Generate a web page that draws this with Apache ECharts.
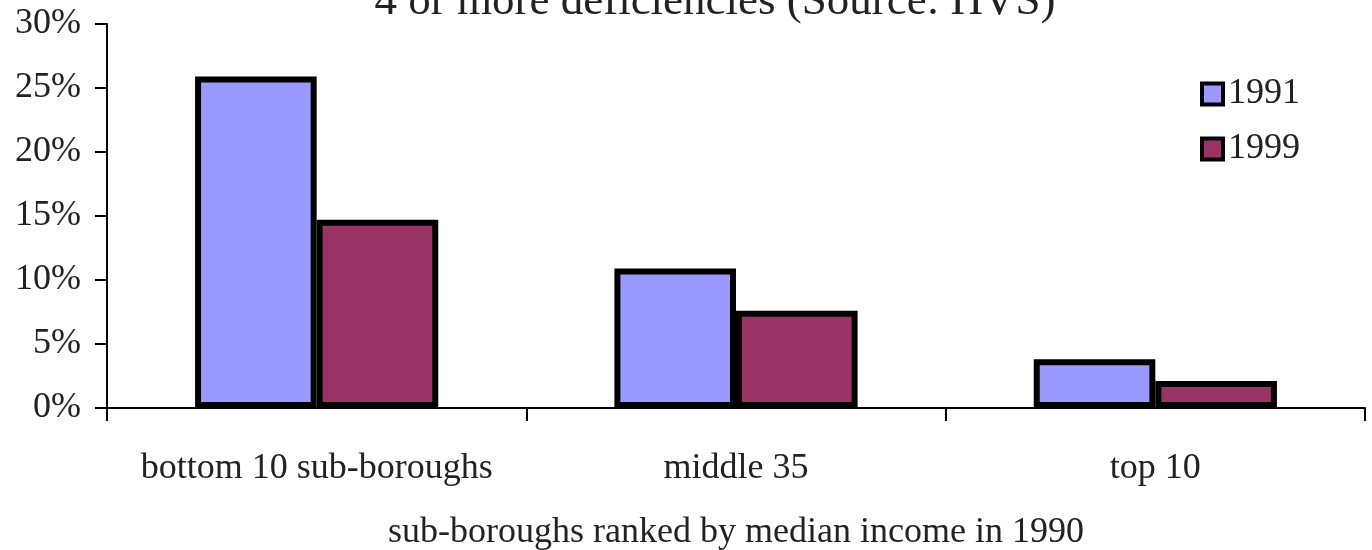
<!DOCTYPE html>
<html><head><meta charset="utf-8">
<script src="https://cdn.jsdelivr.net/npm/echarts@6/dist/echarts.min.js"></script>
<style>html,body{margin:0;padding:0;background:#fff}#c{width:1372px;height:550px}</style>
</head><body><div id="c"></div>
<script>
const categories = ['bottom 10 sub-boroughs', 'middle 35', 'top 10'];
const series1991 = [25.9, 10.9, 3.8];
const series1999 = [14.7, 7.6, 2.1];
const yTicks = [0, 5, 10, 15, 20, 25, 30];
const titleText = '4 or more deficiencies (Source: HVS)';
const xName = 'sub-boroughs ranked by median income in 1990';

const font = 'Liberation Serif, Times New Roman, serif';
const chart = echarts.init(document.getElementById('c'));
chart.setOption({
  animation: false,
  title: { text: titleText, left: 710, textAlign: 'center', top: -25,
    textStyle: { fontFamily: font, fontSize: 45, fontWeight: 'normal', color: '#222' } },
  legend: {
    orient: 'vertical', left: 1195, top: 71, itemGap: 19,
    itemWidth: 21, itemHeight: 21, icon: 'rect',
    itemStyle: { borderColor: '#000', borderWidth: 4 },
    textStyle: { fontFamily: font, fontSize: 36, color: '#222', padding: [4, 0, 0, 0] },
    data: ['1991', '1999']
  },
  grid: { left: 107, right: 7, top: 24, bottom: 142, containLabel: false, outerBoundsMode: 'none' },
  xAxis: {
    type: 'category', data: categories,
    name: xName, nameLocation: 'middle', nameGap: 107,
    nameTextStyle: { fontFamily: font, fontSize: 36, color: '#222' },
    axisLine: { lineStyle: { color: '#000', width: 2 } },
    axisTick: { show: true, interval: 0, length: 13, lineStyle: { color: '#000', width: 2 } },
    axisLabel: { interval: 0, fontFamily: font, fontSize: 36, color: '#222', margin: 43 }
  },
  yAxis: {
    type: 'value', min: yTicks[0], max: yTicks[yTicks.length - 1], interval: 5,
    axisLine: { show: true, lineStyle: { color: '#000', width: 2 } },
    axisTick: { show: true, length: 12, lineStyle: { color: '#000', width: 2 } },
    splitLine: { show: false },
    axisLabel: { fontFamily: font, fontSize: 36, color: '#222', margin: 26, padding: [8, 0, 0, 0], formatter: '{value}%' }
  },
  series: [
    { name: '1991', type: 'bar', data: series1991, barGap: '0%', barCategoryGap: '42%',
      itemStyle: { color: '#9999FF', borderColor: '#000', borderWidth: 6 } },
    { name: '1999', type: 'bar', data: series1999, barGap: '0%', barCategoryGap: '42%',
      itemStyle: { color: '#993366', borderColor: '#000', borderWidth: 6 } }
  ]
});
</script></body></html>
